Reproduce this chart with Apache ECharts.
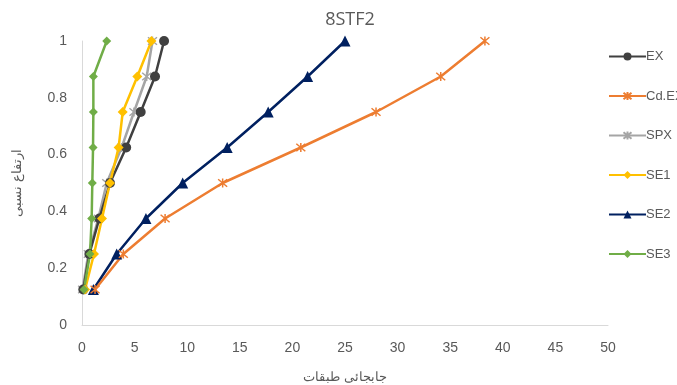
<!DOCTYPE html>
<html><head><meta charset="utf-8">
<script src="https://cdn.jsdelivr.net/npm/echarts@6/dist/echarts.min.js"></script>
<style>html,body{margin:0;padding:0;background:#fff}#c{width:677px;height:385px}</style>
</head><body><div id="c"></div>
<script>
const heights = [0.125, 0.25, 0.375, 0.5, 0.625, 0.75, 0.875, 1];
const EX   = [0.12, 0.7, 1.65, 2.66, 4.2, 5.58, 6.94, 7.8];
const CdEX = [1.24, 3.93, 7.9, 13.37, 20.8, 27.95, 34.1, 38.3];
const SPX  = [0.06, 0.6, 1.55, 2.35, 3.77, 4.94, 6.15, 6.7];
const SE1  = [0.29, 1.14, 1.9, 2.66, 3.48, 3.87, 5.26, 6.6];
const SE2  = [1.08, 3.3, 6.08, 9.57, 13.8, 17.7, 21.45, 25.0];
const SE3  = [0.19, 0.76, 0.92, 0.98, 1.05, 1.08, 1.08, 2.35];
const xTicks = [0, 5, 10, 15, 20, 25, 30, 35, 40, 45, 50];
const yTicks = [0, 0.2, 0.4, 0.6, 0.8, 1];

const star = 'path://M0,0L10,10M10,0L0,10M5,-1L5,11';
function mk(name, vals, color, symbol, size, extra) {
  return Object.assign({
    name, type: 'line', data: vals.map((v, i) => [v, heights[i]]),
    symbol, symbolSize: size, showSymbol: true,
    lineStyle: { color, width: 2.5 },
    itemStyle: { color, borderColor: color, borderWidth: symbol.startsWith('path') ? 1.5 : 0 },
    emphasis: { disabled: true }
  }, extra || {});
}
const chart = echarts.init(document.getElementById('c'), null, { renderer: 'canvas' });
chart.setOption({
  animation: false,
  title: { text: '8STF2', left: 345, top: 6, textAlign: 'center',
    textStyle: { color: '#595959', fontSize: 18, fontWeight: 'normal', fontFamily: 'Open Sans, sans-serif' } },
  grid: { left: 82, right: 69, top: 41, bottom: 60, containLabel: false, outerBoundsMode: 'none' },
  legend: {
    orient: 'vertical', left: 603, top: 45, itemWidth: 37, itemHeight: 10, itemGap: 26.5,
    textStyle: { color: '#595959', fontSize: 13, padding: [0, 0, 0, -5] },
    data: ['EX', 'Cd.EX', 'SPX', 'SE1', 'SE2', 'SE3']
  },
  xAxis: {
    type: 'value', min: xTicks[0], max: xTicks[xTicks.length - 1], interval: 5,
    name: 'جابجائی طبقات', nameLocation: 'middle', nameGap: 46,
    nameTextStyle: { color: '#595959', fontSize: 13 },
    axisLine: { show: true, lineStyle: { color: '#d9d9d9' } },
    axisTick: { show: false }, splitLine: { show: false },
    axisLabel: { color: '#595959', fontSize: 14, margin: 16 }
  },
  yAxis: {
    type: 'value', min: yTicks[0], max: yTicks[yTicks.length - 1], interval: 0.2,
    name: 'ارتفاع نسبی', nameLocation: 'middle', nameGap: 58, nameRotate: 90,
    nameTextStyle: { color: '#595959', fontSize: 13 },
    axisLine: { show: true, lineStyle: { color: '#d9d9d9' } },
    axisTick: { show: false }, splitLine: { show: false },
    axisLabel: { color: '#595959', fontSize: 14, margin: 15 }
  },
  series: [
    mk('SE2', SE2, '#002060', 'triangle', 11),
    mk('Cd.EX', CdEX, '#ED7D31', star, 9),
    mk('SPX', SPX, '#A5A5A5', star, 9),
    mk('EX', EX, '#404040', 'circle', 10),
    mk('SE1', SE1, '#FFC000', 'diamond', 10),
    mk('SE3', SE3, '#70AD47', 'diamond', 9)
  ]
});
</script></body></html>
